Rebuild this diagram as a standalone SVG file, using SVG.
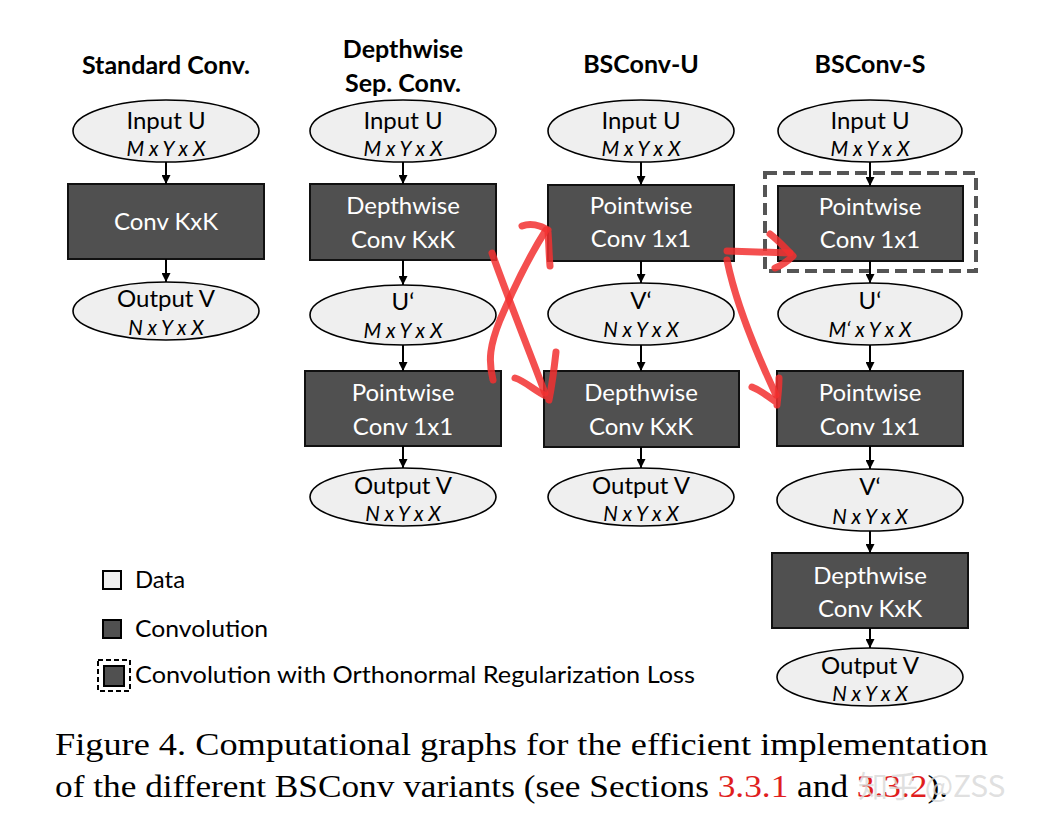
<svg xmlns="http://www.w3.org/2000/svg" width="1041" height="831" viewBox="0 0 1041 831">
<defs>
<marker id="ah" viewBox="0 0 10 10" refX="10" refY="5" markerWidth="9" markerHeight="9" markerUnits="userSpaceOnUse" orient="auto">
<path d="M0,0 L10,5 L0,10 z" fill="#000"/>
</marker>
</defs>
<style>
.data{fill:#efefef;stroke:#000;stroke-width:1.6}
.conv{fill:#505050;stroke:#111;stroke-width:2}
.t{font-family:Lato,"Open Sans","Liberation Sans",sans-serif;font-size:24px;text-anchor:middle;fill:#000}
.s{font-family:Lato,"Open Sans","Liberation Sans",sans-serif;font-size:20.5px;font-style:italic;text-anchor:middle;fill:#000}
.w{font-family:Lato,"Open Sans","Liberation Sans",sans-serif;font-size:24px;text-anchor:middle;fill:#fff}
.h{font-family:Lato,"Open Sans","Liberation Sans",sans-serif;font-size:25px;font-weight:bold;text-anchor:middle;fill:#000}
.lg{font-family:Lato,"Open Sans","Liberation Sans",sans-serif;font-size:24px;fill:#000}
.cap{font-family:"Liberation Serif","Times New Roman",serif;font-size:32px;fill:#000}
.red{fill:#e01e1e}
.arr{stroke:#000;stroke-width:2;fill:none;marker-end:url(#ah)}
.rd{stroke:#f23030;stroke-opacity:0.85;stroke-width:7;fill:none;stroke-linecap:round;stroke-linejoin:round}
</style>
<rect width="1041" height="831" fill="#fff"/>

<!-- titles -->
<text class="h" x="166" y="74">Standard Conv.</text>
<text class="h" x="403" y="58">Depthwise</text>
<text class="h" x="403" y="92">Sep. Conv.</text>
<text class="h" x="641" y="73">BSConv-U</text>
<text class="h" x="870" y="73">BSConv-S</text>

<!-- column 1 -->
<g id="c1-input"><ellipse class="data" cx="166" cy="131" rx="93" ry="31"/><text class="t" x="166" y="129">Input U</text><text class="s" x="166" y="156">M x Y x X</text></g>
<g id="c1-conv"><rect class="conv" x="68" y="184" width="196" height="75"/><text class="w" x="166" y="230">Conv KxK</text></g>
<g id="c1-output"><ellipse class="data" cx="166" cy="311" rx="93" ry="29"/><text class="t" x="166" y="307">Output V</text><text class="s" x="166" y="335">N x Y x X</text></g>

<!-- column 2 -->
<g id="c2-input"><ellipse class="data" cx="403" cy="131" rx="93" ry="31"/><text class="t" x="403" y="129">Input U</text><text class="s" x="403" y="156">M x Y x X</text></g>
<g id="c2-dw"><rect class="conv" x="310" y="184" width="186" height="76"/><text class="w" x="403" y="214">Depthwise</text><text class="w" x="403" y="248">Conv KxK</text></g>
<g id="c2-u"><ellipse class="data" cx="403" cy="315" rx="93" ry="30"/><text class="t" x="403" y="310">U‘</text><text class="s" x="403" y="338">M x Y x X</text></g>
<g id="c2-pw"><rect class="conv" x="305" y="371" width="196" height="75"/><text class="w" x="403" y="401">Pointwise</text><text class="w" x="403" y="435">Conv 1x1</text></g>
<g id="c2-output"><ellipse class="data" cx="403" cy="497" rx="93" ry="29"/><text class="t" x="403" y="494">Output V</text><text class="s" x="403" y="521">N x Y x X</text></g>

<!-- column 3 -->
<g id="c3-input"><ellipse class="data" cx="641" cy="131" rx="93" ry="31"/><text class="t" x="641" y="129">Input U</text><text class="s" x="641" y="156">M x Y x X</text></g>
<g id="c3-pw"><rect class="conv" x="548" y="185" width="186" height="76"/><text class="w" x="641" y="214">Pointwise</text><text class="w" x="641" y="247">Conv 1x1</text></g>
<g id="c3-v"><ellipse class="data" cx="641" cy="314" rx="93" ry="31"/><text class="t" x="641" y="309">V‘</text><text class="s" x="641" y="337">N x Y x X</text></g>
<g id="c3-dw"><rect class="conv" x="544" y="371" width="195" height="76"/><text class="w" x="641" y="401">Depthwise</text><text class="w" x="641" y="435">Conv KxK</text></g>
<g id="c3-output"><ellipse class="data" cx="641" cy="497" rx="93" ry="29"/><text class="t" x="641" y="494">Output V</text><text class="s" x="641" y="521">N x Y x X</text></g>

<!-- column 4 -->
<g id="c4-input"><ellipse class="data" cx="870" cy="131" rx="92" ry="31"/><text class="t" x="870" y="129">Input U</text><text class="s" x="870" y="156">M x Y x X</text></g>
<g id="c4-pw1"><rect x="765" y="173" width="211" height="98" fill="none" stroke="#555" stroke-width="4" stroke-dasharray="12 6"/><rect class="conv" x="778" y="186" width="185" height="75"/><text class="w" x="870" y="215">Pointwise</text><text class="w" x="870" y="248">Conv 1x1</text></g>
<g id="c4-u"><ellipse class="data" cx="870" cy="314" rx="92" ry="31"/><text class="t" x="870" y="309">U‘</text><text class="s" x="870" y="337">M‘ x Y x X</text></g>
<g id="c4-pw2"><rect class="conv" x="777" y="371" width="186" height="75"/><text class="w" x="870" y="401">Pointwise</text><text class="w" x="870" y="435">Conv 1x1</text></g>
<g id="c4-v"><ellipse class="data" cx="870" cy="500" rx="93" ry="31"/><text class="t" x="870" y="495">V‘</text><text class="s" x="870" y="524">N x Y x X</text></g>
<g id="c4-dw"><rect class="conv" x="772" y="553" width="196" height="75"/><text class="w" x="870" y="584">Depthwise</text><text class="w" x="870" y="617">Conv KxK</text></g>
<g id="c4-output"><ellipse class="data" cx="870" cy="677" rx="93" ry="29"/><text class="t" x="870" y="674">Output V</text><text class="s" x="870" y="701">N x Y x X</text></g>

<!-- connectors -->
<g id="connectors">
<line class="arr" x1="166" y1="162" x2="166" y2="184"/>
<line class="arr" x1="166" y1="259" x2="166" y2="282"/>
<line class="arr" x1="403" y1="162" x2="403" y2="184"/>
<line class="arr" x1="403" y1="260" x2="403" y2="285"/>
<line class="arr" x1="403" y1="345" x2="403" y2="371"/>
<line class="arr" x1="403" y1="446" x2="403" y2="468"/>
<line class="arr" x1="641" y1="162" x2="641" y2="185"/>
<line class="arr" x1="641" y1="261" x2="641" y2="283"/>
<line class="arr" x1="641" y1="345" x2="641" y2="371"/>
<line class="arr" x1="641" y1="447" x2="641" y2="468"/>
<line class="arr" x1="870" y1="162" x2="870" y2="186"/>
<line class="arr" x1="870" y1="261" x2="870" y2="283"/>
<line class="arr" x1="870" y1="345" x2="870" y2="371"/>
<line class="arr" x1="870" y1="446" x2="870" y2="469"/>
<line class="arr" x1="870" y1="531" x2="870" y2="553"/>
<line class="arr" x1="870" y1="628" x2="870" y2="648"/>
</g>

<!-- red hand-drawn annotations -->
<g id="annotations">
<path class="rd" d="M492 253 C505 290 528 348 545 393"/>
<path class="rd" d="M515 378 C525 381 535 391 546 396 M556 352 C554 370 552 385 549 400"/>
<path class="rd" d="M493 380 C488 360 490 345 500 320 C515 285 530 255 546 230"/>
<path class="rd" d="M522 226 C530 223 540 225 548 230 M548 232 C549 245 549 255 550 266"/>
<path class="rd" d="M727 251 L790 253"/>
<path class="rd" d="M770 234 C778 240 785 248 793 256 C787 262 780 266 775 268"/>
<path class="rd" d="M727 260 C735 300 755 350 776 395"/>
<path class="rd" d="M752 387 C760 390 768 396 776 402 M779 378 C779 388 778 395 777 405"/>
</g>

<!-- legend -->
<g id="legend">
<rect x="103" y="571" width="18" height="18" fill="#efefef" stroke="#000" stroke-width="2"/>
<text class="lg" x="135" y="588" textLength="50" lengthAdjust="spacingAndGlyphs">Data</text>
<rect x="103" y="620" width="18" height="18" fill="#505050" stroke="#000" stroke-width="2"/>
<text class="lg" x="135" y="637" textLength="133" lengthAdjust="spacingAndGlyphs">Convolution</text>
<rect x="98" y="660" width="32" height="31" fill="none" stroke="#000" stroke-width="2" stroke-dasharray="5 3"/>
<rect x="104" y="666" width="20" height="20" fill="#505050" stroke="#000" stroke-width="2"/>
<text class="lg" x="135" y="683" textLength="560" lengthAdjust="spacingAndGlyphs">Convolution with Orthonormal Regularization Loss</text>
</g>

<!-- caption -->
<text class="cap" x="55" y="755" textLength="933" lengthAdjust="spacingAndGlyphs">Figure 4. Computational graphs for the efficient implementation</text>
<text class="cap" x="55" y="797" textLength="893" lengthAdjust="spacingAndGlyphs">of the different BSConv variants (see Sections <tspan class="red">3.3.1</tspan> and <tspan class="red">3.3.2</tspan>).</text>
<text x="858" y="797" font-family="'Noto Sans CJK SC',sans-serif" font-size="30" fill="#d8d8d8" fill-opacity="0.8">知乎 @ZSS</text>
</svg>
